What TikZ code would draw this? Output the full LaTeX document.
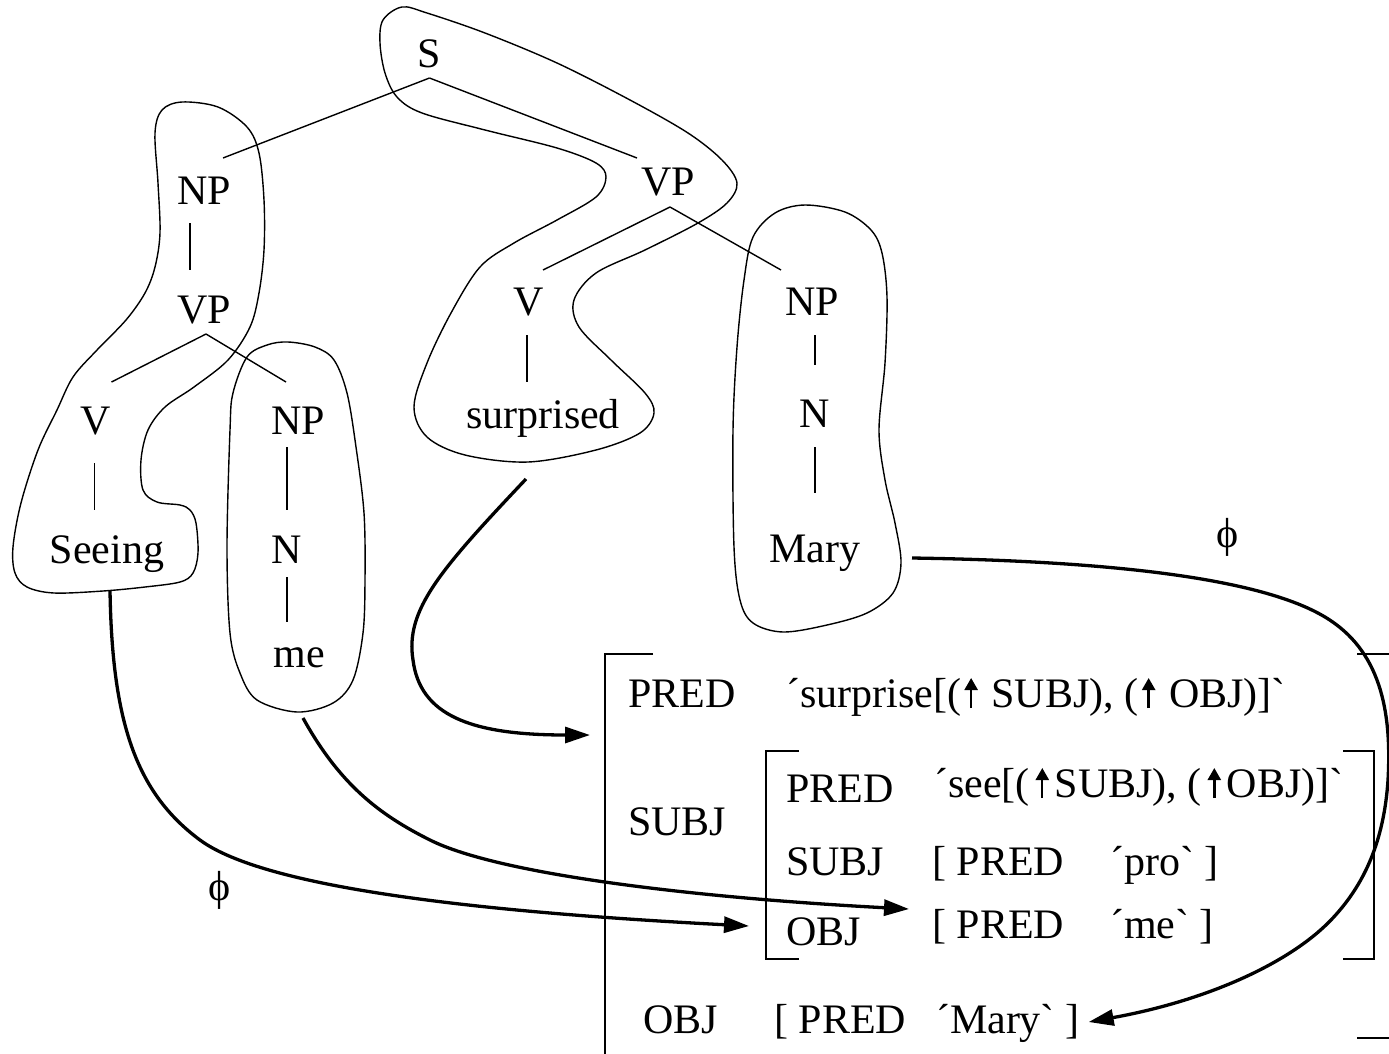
\documentclass[tikz,border=0pt]{standalone}
\usepackage{fontspec}
\newfontfamily\tm{Liberation Serif}
\usetikzlibrary{arrows.meta}
\newcommand\uparw[1]{\makebox[#1]{\tikz[baseline=0pt,x=1pt,y=1pt]\draw[line width=2.4pt,-{Triangle[length=12pt,width=13pt]}] (0,-1)--(0,29);}}
\begin{document}
\begin{tikzpicture}[x=1pt,y=-1pt,
  lbl/.style={font=\tm\fontsize{42}{46}\selectfont, inner sep=0pt, anchor=base},
  avm/.style={lbl, anchor=base west},
  tl/.style={line width=1.4pt},
  blob/.style={line width=1.4pt, line join=round},
  arr/.style={line width=3.3pt, -{Triangle[length=25pt,width=16pt]}},
  brk/.style={line width=1.8pt}]
\useasboundingbox (0,0) rectangle (1389,1053);
% tree labels
\node[lbl] (s) at (429,67) {S};
\node[lbl] (np1) at (204,204) {NP};
\node[lbl] (vp1) at (204,323) {VP};
\node[lbl] (v1) at (96,434) {V};
\node[lbl] (seeing) at (107,563) {Seeing};
\node[lbl] (np2) at (298,434) {NP};
\node[lbl] (n2) at (287,563) {N};
\node[lbl] (me) at (299,667) {me};
\node[lbl] (vp2) at (668,195) {VP};
\node[lbl] (v2) at (529,315) {V};
\node[lbl] (surprised) at (543,428) {surprised};
\node[lbl] (np3) at (812,315) {NP};
\node[lbl] (n3) at (815,427) {N};
\node[lbl] (mary) at (815,562) {Mary};
\node[lbl, anchor=center] (phi1) at (1228,537) {ϕ};
\node[lbl, anchor=center] (phi2) at (220,890) {ϕ};
% tree edges
\draw[tl] ([shift={(0.5,11)}]s.base) -- ([shift={(19,-46)}]np1.base);
\draw[tl] ([shift={(0.5,11)}]s.base) -- ([shift={(-31,-37)}]vp2.base);
\draw[tl] ([shift={(2,12)}]vp2.base) -- ([shift={(14,-45)}]v2.base);
\draw[tl] ([shift={(2,12)}]vp2.base) -- ([shift={(-31,-45)}]np3.base);
\draw[tl] ([shift={(-14,19)}]np1.base) -- ([shift={(-14,-53)}]vp1.base);
\draw[tl] ([shift={(2,11)}]vp1.base) -- ([shift={(15.5,-52)}]v1.base);
\draw[tl] ([shift={(2,11)}]vp1.base) -- ([shift={(-12,-52)}]np2.base);
\draw[tl] ([shift={(-1.5,29)}]v1.base) -- ([shift={(-12.5,-53)}]seeing.base);
\draw[tl] ([shift={(-11,13)}]np2.base) -- ([shift={(0,-53)}]n2.base);
\draw[tl] ([shift={(0,14)}]n2.base) -- ([shift={(-12,-45)}]me.base);
\draw[tl] ([shift={(-2,20)}]v2.base) -- ([shift={(-16,-46)}]surprised.base);
\draw[tl] ([shift={(3,20)}]np3.base) -- ([shift={(0,-62)}]n3.base);
\draw[tl] ([shift={(0,20)}]n3.base) -- ([shift={(0,-69)}]mary.base);
% blobs
\draw[blob] plot[smooth cycle, tension=0.55] coordinates {
 (402,7) (427,13) (485,33) (557,63) (630,100) (688,133) (722,160) (737,183)
 (727,203) (698,223) (645,250) (596,273) (574,300) (579,327) (611,360)
 (645,393) (654,413) (640,433) (596,450) (528,462) (465,455) (427,437)
 (414,407) (427,363) (451,313) (480,267) (514,243) (557,220) (596,197)
 (606,177) (596,163) (557,148) (485,130) (422,113) (397,97) (385,73)
 (380,43) (383,20)};
\draw[blob] plot[smooth cycle, tension=0.55] coordinates {
 (182,102) (218,107) (247,127) (259,153) (264,200) (264,250) (259,293)
 (250,327) (228,360) (194,387) (165,407) (148,430) (141,460) (143,490)
 (157,502) (180,505) (190,510) (196,523) (198,553) (193,573) (180,582)
 (145,587) (103,591) (54,593) (27,587) (15,573) (13,547) (21,503) (38,450)
 (57,410) (73,377) (97,350) (126,320) (145,293) (155,267) (160,233)
 (158,183) (155,133) (162,110)};
\draw[blob] plot[smooth cycle, tension=0.55] coordinates {
 (288,342) (315,347) (334,360) (347,393) (356,447) (364,513) (365,580)
 (363,633) (353,680) (333,703) (297,712) (257,700) (240,673) (230,633)
 (227,547) (230,430) (233,393) (247,357) (267,345)};
\draw[blob] plot[smooth cycle, tension=0.55] coordinates {
 (805,205) (845,212) (871,230) (882,253) (887,297) (885,363) (879,430)
 (885,480) (895,523) (901,563) (893,593) (867,613) (827,625) (783,632)
 (753,623) (740,600) (734,547) (733,430) (737,347) (744,280) (753,237)
 (775,213)};
% AVM
\node[avm] (predo) at (628,707) {PRED};
\node[avm] (surp) at (786,707) {´surprise[(\uparw{20pt}\ SUBJ), (\uparw{20pt}\ OBJ)]`};
\node[avm] (subjo) at (628,835) {SUBJ};
\node[avm] (predi) at (786,802) {PRED};
\node[avm] (seev) at (934,797) {´see[(\uparw{25pt}SUBJ), (\uparw{25pt}OBJ)]`};
\node[avm] (subji) at (786,875) {SUBJ};
\node[avm] (pro) at (932,875) {[ PRED\hspace{46pt}´pro` ]};
\node[avm] (obji) at (786,945) {OBJ};
\node[avm] (mev) at (932,938) {[ PRED\hspace{46pt}´me` ]};
\node[avm] (objo) at (643,1033) {OBJ};
\node[avm] (maryv) at (774,1033) {[ PRED\hspace{30pt}´Mary` ]};
% brackets
\draw[brk] (653,654) -- (605,654) -- (605,1060);
\draw[brk] (1357,654) -- (1391,654) -- (1391,1038) -- (1357,1038);
\draw[brk] (799,751) -- (766,751) -- (766,959) -- (799,959);
\draw[brk] (1343,751) -- (1374,751) -- (1374,959) -- (1343,959);
% mapping arrows
\draw[arr] ([shift={(-17,51)}]surprised.base) .. controls (440,570) and (405,610) .. (413,660)
  .. controls (420,715) and (470,735) .. ([shift={(-38,28)}]predo.base west);
\draw[arr] ([shift={(3,27)}]seeing.base) .. controls (112,720) and (135,792) .. (200,840)
  .. controls (265,888) and (480,912) .. ([shift={(-37,-19)}]obji.base west);
\draw[arr] ([shift={(4,51)}]me.base) .. controls (340,785) and (380,815) .. (430,840)
  .. controls (500,875) and (700,898) .. ([shift={(-23,-29)}]mev.base west);
\draw[arr] ([shift={(97,-4)}]mary.base) .. controls (1110,561) and (1260,578) .. (1325,617)
  .. controls (1380,650) and (1392,710) .. (1388,780)
  .. controls (1384,840) and (1365,885) .. (1330,921)
  .. controls (1290,962) and (1210,1000) .. ([shift={(9,-11)}]maryv.base east);
\end{tikzpicture}
\end{document}
